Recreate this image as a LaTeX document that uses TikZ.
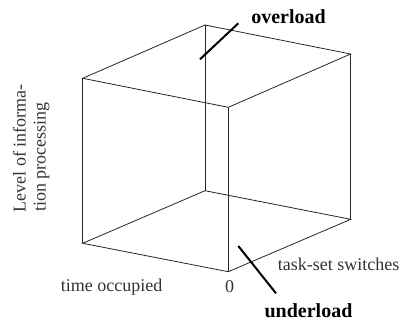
\documentclass[tikz,border=0pt]{standalone}
\usepackage{fontspec}
\setmainfont{Liberation Serif}
\begin{document}
\begin{tikzpicture}[x=1pt,y=-1pt,
  edge/.style={line width=0.8pt, black!85},
  tick/.style={line width=2pt, black},
  lbl/.style={inner sep=0pt, font=\fontsize{18}{20}\selectfont, text=black!80},
  blbl/.style={inner sep=0pt, font=\fontsize{20}{22}\selectfont\bfseries, text=black}]
\useasboundingbox (0,0) rectangle (403,322);
% cube vertices
\coordinate (BT) at (205,25);
\coordinate (RT) at (350.7,54);
\coordinate (LT) at (82.7,78.3);
\coordinate (FT) at (228.3,107.3);
\coordinate (BB) at (205,190.7);
\coordinate (RB) at (350.7,219.3);
\coordinate (LB) at (82.7,243.3);
\coordinate (FB) at (228.3,271.7);
% top face
\draw[edge] (LT) -- (BT) -- (RT) -- (FT) -- cycle;
% bottom face
\draw[edge] (LB) -- (BB) -- (RB) -- (FB) -- cycle;
% verticals
\draw[edge] (LT) -- (LB);
\draw[edge] (RT) -- (RB);
\draw[edge] (BT) -- (BB);
\draw[edge, line width=1pt] (FT) -- (FB);
% markers
\coordinate (o1) at (200,59.3);
\coordinate (o2) at (238.3,23.3);
\draw[tick] (o1) -- (o2);
\coordinate (u1) at (238.3,246);
\coordinate (u2) at (276,293.3);
\draw[tick] (u1) -- (u2);
% labels
\node[blbl] (over) at (288.5,17) {overload};
\node[blbl] (under) at (308.5,311) {underload};
\node[lbl] (task) at (338.5,264) {task-set switches};
\node[lbl] (zero) at (229.5,287) {0};
\node[lbl] (time) at (111.5,287) {time occupied};
\node[lbl, rotate=90] (lev1) at (19.5,148.5) {Level of informa-};
\node[lbl, rotate=90] (lev2) at (41.5,157) {tion processing};
\end{tikzpicture}
\end{document}
